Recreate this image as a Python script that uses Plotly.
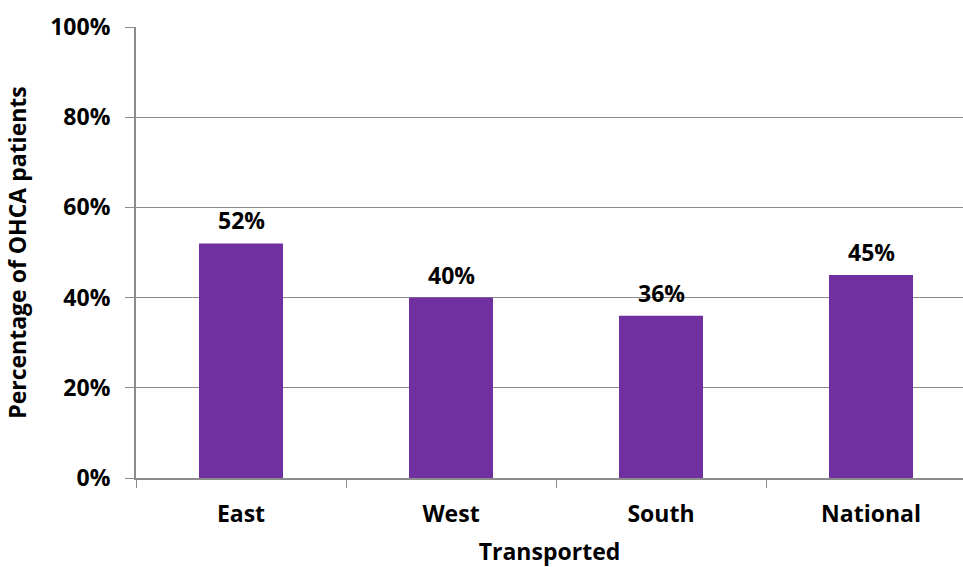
import plotly.graph_objects as go

categories = ["East", "West", "South", "National"]
values = [52, 40, 36, 45]
labels = ["52%", "40%", "36%", "45%"]
y_ticks = [0, 20, 40, 60, 80, 100]
y_tick_text = ["0%", "20%", "40%", "60%", "80%", "100%"]

FONT = "Open Sans"
GRAY = "#8c8c8c"
SIZE = 23
bold = dict(family=FONT, size=SIZE, color="black", weight="bold")

fig = go.Figure(go.Bar(
    x=categories, y=values,
    marker=dict(color="#7030A0", line=dict(width=0)),
    width=0.4,
))

for c, v, t in zip(categories, values, labels):
    fig.add_annotation(x=c, y=v, text=t, showarrow=False, yanchor="bottom",
                       yshift=5, font=bold)

fig.update_layout(
    width=963, height=567,
    margin=dict(l=136, r=0, t=27, b=87),
    plot_bgcolor="white", paper_bgcolor="white",
    showlegend=False,
    font=dict(family=FONT, size=SIZE, color="black"),
)
fig.update_xaxes(
    range=[-0.5, -0.5 + 827 / 210],
    showline=True, linecolor=GRAY, linewidth=2,
    ticks="outside", tickson="boundaries", ticklen=8, tickcolor=GRAY,
    tickfont=bold,
    ticklabelstandoff=14,
    title=dict(text="Transported", font=bold, standoff=22),
    showgrid=False,
)
fig.update_yaxes(
    range=[0, 100], tickvals=y_ticks, ticktext=y_tick_text,
    showline=True, linecolor=GRAY, linewidth=2,
    ticks="outside", ticklen=9, tickcolor=GRAY,
    tickfont=bold,
    ticklabelstandoff=10,
    showgrid=True, gridcolor=GRAY, gridwidth=1,
    title=dict(text="Percentage of OHCA patients", font=bold, standoff=17),
    zeroline=False,
)

fig.write_html("out.html")
